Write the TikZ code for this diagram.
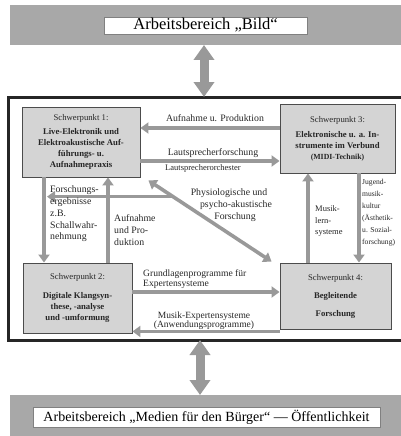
\documentclass[tikz,border=0pt]{standalone}
\usepackage{fontspec}
\setmainfont{Liberation Serif}
\usetikzlibrary{arrows.meta,calc}
\definecolor{bandgray}{gray}{0.66}
\definecolor{arrowgray}{gray}{0.6}
\definecolor{boxgray}{gray}{0.83}
\begin{document}
\begin{tikzpicture}[x=1pt,y=-1pt,
    band/.style={draw=none,fill=bandgray},
    bandlabel/.style={draw=gray,fill=white,inner sep=0pt,font=\fontsize{14}{16}\selectfont},
    spbox/.style={draw=black!70,line width=0.9pt,fill=boxgray,align=center,inner sep=0pt,
      text=black!85,font=\fontsize{8.7}{11}\selectfont},
    flow/.style={draw=arrowgray,line width=3.6pt,-{Triangle[width=11pt,length=8pt]}},
    twoway/.style={draw=arrowgray,line width=3.6pt,{Triangle[width=11pt,length=8pt]}-{Triangle[width=11pt,length=8pt]}},
    bigway/.style={draw=arrowgray,line width=9pt,{Triangle[width=20pt,length=15pt]}-{Triangle[width=20pt,length=15pt]}},
    lbl/.style={inner sep=0pt,text=black!85,font=\fontsize{9.8}{11.7}\selectfont},
    tiny/.style={inner sep=0pt,text=black!85,font=\fontsize{7.6}{12}\selectfont}]
  \useasboundingbox (0,0) rectangle (400,436);
  % Arbeitsbereiche
  \draw[band] (10,5) rectangle (402,45);
  \draw[band] (10,395) rectangle (402,438);
  \node[bandlabel,minimum width=203pt,minimum height=17pt,font=\fontsize{16.5}{17}\selectfont] (bild) at (205.5,25.5) {Arbeitsbereich „Bild“};
  \node[bandlabel,minimum width=347pt,minimum height=20pt] (buerger) at (206.5,417) {Arbeitsbereich „Medien für den Bürger“ --- Öffentlichkeit};
  % Rahmen
  \draw[line width=3pt,black!85] (8,97) rectangle (403,340);
  \coordinate (rtop) at (204,97);
  \coordinate (rbot) at (200,340);
  \draw[bigway] (rtop) -- (rtop |- 0,45);
  \draw[bigway] (rbot) -- (rbot |- 0,395);
  % Schwerpunkte
  \node[spbox,minimum width=118pt,minimum height=70pt] (sp1) at (81,142)
    {Schwerpunkt 1:\\[3pt]\textbf{Live-Elektronik und}\\\textbf{Elektroakustische Auf-}\\\textbf{führungs- u.}\\\textbf{Aufnahmepraxis}};
  \node[spbox,minimum width=109pt,minimum height=70pt] (sp2) at (77.5,298)
    {Schwerpunkt 2:\\[8pt]\textbf{Digitale Klangsyn-}\\\textbf{these, -analyse}\\\textbf{und -umformung}};
  \node[spbox,minimum width=115pt,minimum height=69pt] (sp3) at (337.5,138.5)
    {Schwerpunkt 3:\\[4pt]\textbf{Elektronische u. a. In-}\\\textbf{strumente im Verbund}\\\textbf{\fontsize{7.8}{9}\selectfont(MIDI-Technik)}};
  \node[spbox,minimum width=111pt,minimum height=66pt] (sp4) at (335.5,296)
    {Schwerpunkt 4:\\[7pt]\textbf{Begleitende}\\[7pt]\textbf{Forschung}};
  % Verbindungen
  \coordinate (aufn) at ([yshift=10.5pt]sp3.west);
  \draw[flow] (aufn) -- (aufn -| sp1.east);
  \coordinate (laut) at ([yshift=-19pt]sp1.east);
  \draw[flow] (laut) -- (laut -| sp3.west);
  \coordinate (phys1) at ([shift={(8,3)}]sp1.south east);
  \coordinate (phys2) at ([shift={(-8,-1)}]sp4.north west);
  \draw[twoway] (phys1) -- (phys2);
  \coordinate (ergb) at ([xshift=-37pt]sp1.south);
  \draw[flow] (ergb) -- (ergb |- sp2.north);
  \coordinate (abzw) at ($(phys1)!0.2!(phys2)$);
  \draw[flow] (abzw) -- ([xshift=3pt]abzw -| ergb);
  \coordinate (prod) at ([xshift=30.5pt]sp2.north);
  \draw[flow] (prod) -- (prod |- sp1.south);
  \coordinate (lern) at ([xshift=-27.5pt]sp4.north);
  \draw[flow] (lern) -- (lern |- sp3.south);
  \coordinate (jug) at ([xshift=21.5pt]sp3.south);
  \draw[flow] (jug) -- (jug |- sp4.north);
  \coordinate (grund) at ([yshift=6pt]sp2.east);
  \draw[flow] (grund) -- (grund -| sp4.west);
  \coordinate (expt) at ([yshift=-2pt]sp4.south west);
  \draw[flow] (expt) -- (expt -| sp2.east);
  % Beschriftungen
  \node[lbl] (laufn) at (215,118) {Aufnahme u. Produktion};
  \node[lbl] (llaut) at (213,153) {Lautsprecherforschung};
  \node[lbl,font=\fontsize{8.5}{10}\selectfont] (lorch) at (203,168) {Lautsprecherorchester};
  \node[lbl,align=center] (lphys) at (229,205) {Physiologische und\\\hspace*{14pt}psycho-akustische\\\hspace*{12pt}Forschung};
  \node[lbl,align=left,anchor=west] (lergb) at (50,214) {Forschungs-\\ergebnisse\\z.B.\\Schallwahr-\\nehmung};
  \node[lbl,align=left,anchor=west] (lprod) at (114,230) {Aufnahme\\und Pro-\\duktion};
  \node[lbl,align=left,anchor=west,font=\fontsize{8.5}{11.7}\selectfont] (llern) at (315,221) {Musik-\\lern-\\systeme};
  \node[tiny,align=left,anchor=west] (ljug) at (362,213) {Jugend-\\musik-\\kultur\\(Ästhetik-\\u. Sozial-\\forschung)};
  \node[lbl,align=left,anchor=west,font=\fontsize{9.6}{9.5}\selectfont] (lgrund) at (143,279) {Grundlagenprogramme für\\Expertensysteme};
  \node[lbl,align=center,font=\fontsize{9.5}{9}\selectfont] (lexpt) at (204,321) {Musik-Expertensysteme\\(Anwendungsprogramme)};
\end{tikzpicture}
\end{document}
